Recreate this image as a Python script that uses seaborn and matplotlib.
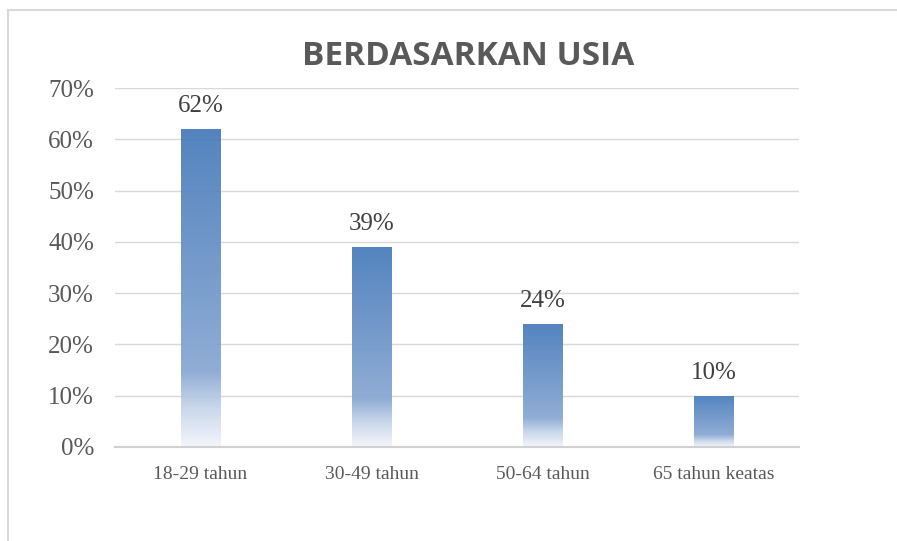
import numpy as np
import pandas as pd
import matplotlib
matplotlib.use("Agg")
import matplotlib.pyplot as plt
import seaborn as sns
from matplotlib.colors import LinearSegmentedColormap
from matplotlib.patches import Rectangle

# data
kelompok = ["18-29 tahun", "30-49 tahun", "50-64 tahun", "65 tahun keatas"]
persen = [62, 39, 24, 10]
judul = "BERDASARKAN USIA"

df = pd.DataFrame({"kelompok": kelompok, "persen": persen})

sns.set_theme(style="white")
plt.rcParams["font.family"] = ["Liberation Serif", "DejaVu Serif"]

fig = plt.figure(figsize=(8.97, 5.41), dpi=100)
ax = fig.add_axes([0.128, 0.174, 0.763, 0.663])

sns.barplot(data=df, x="kelompok", y="persen", color="#4F81BD", width=0.23,
            ax=ax, zorder=2)

ax.set_ylim(0, 70)
ax.set_xlim(-0.5, 3.5)
ax.set_yticks(range(0, 80, 10))
ax.set_yticklabels([f"{v}%" for v in range(0, 80, 10)], fontsize=18, color="#595959")
ax.tick_params(axis="x", labelsize=14, colors="#595959", pad=14, length=0)
ax.tick_params(axis="y", pad=15, length=0)
ax.set_xlabel("")
ax.set_ylabel("")
ax.yaxis.grid(True, color="#d9d9d9", linewidth=1, zorder=0)
ax.set_axisbelow(True)
for s in ["left", "right", "top"]:
    ax.spines[s].set_visible(False)
ax.spines["bottom"].set_color("#d0d0d0")
ax.spines["bottom"].set_linewidth(1.5)

# gradient fill: dark blue at top, fading to white near the base
cmap = LinearSegmentedColormap.from_list(
    "grad",
    [(0.0, "#4E80BD"), (0.76, "#8CAAD4"), (0.88, "#C9D7EB"), (1.0, "#F3F6FB")],
)
grad = np.linspace(0, 1, 256).reshape(-1, 1)
for bar, val in zip(ax.patches, persen):
    x0 = bar.get_x()
    w = bar.get_width()
    h = bar.get_height()
    bar.set_facecolor("none")
    bar.set_edgecolor("none")
    im = ax.imshow(grad, cmap=cmap, aspect="auto", extent=[x0, x0 + w, 0, h],
                   origin="upper", zorder=2, alpha=0.97)
    im.set_clip_path(bar)
    ax.text(x0 + w / 2, h + 2.3, f"{val}%", ha="center", va="bottom",
            fontsize=18, color="#404040")

ax.set_xlim(-0.5, 3.5)
ax.set_ylim(0, 70)

fig.text(0.522, 0.895, judul, ha="center", va="center", fontsize=24,
         fontweight="bold", color="#595959", family=["Open Sans", "DejaVu Sans"])

# chart border
fig.add_artist(Rectangle((8 / 897, -0.1), 1.0, (541 - 10) / 541 + 0.1,
                         transform=fig.transFigure, fill=False,
                         edgecolor="#d9d9d9", linewidth=1.5))

fig.savefig("out.png", dpi=100)
